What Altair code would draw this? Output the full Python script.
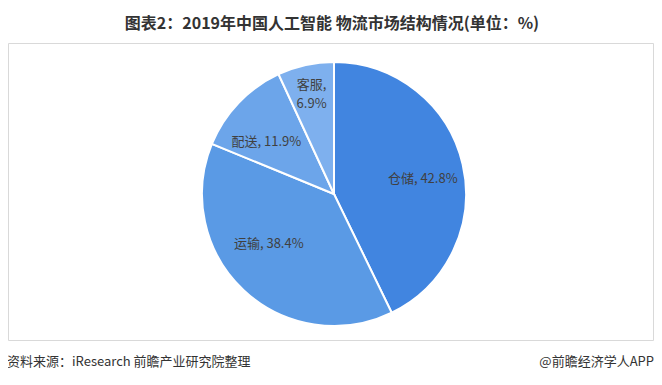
import altair as alt
import pandas as pd

categories = ["仓储", "运输", "配送", "客服"]
shares = [42.8, 38.4, 11.9, 6.9]
colors = ["#4185E0", "#5A9AE5", "#6CA5EA", "#7EB0EE"]

title_text = "图表2：2019年中国人工智能 物流市场结构情况(单位：%)"
source_text = "资料来源：iResearch 前瞻产业研究院整理"
brand_text = "@前瞻经济学人APP"

FONT = "Noto Sans CJK SC"

df = pd.DataFrame({"cat": categories, "val": shares, "order": list(range(len(categories)))})
df["label"] = [
    (f"{c},\n{v}%" if c == "客服" else f"{c}, {v}%") for c, v in zip(categories, shares)
]

W, H = 646, 369
CX, CY, R = 326, 186, 132

color = alt.Color("cat:N", scale=alt.Scale(domain=categories, range=colors), legend=None)
theta = alt.Theta("val:Q", stack=True)
order = alt.Order("order:Q")

base = alt.Chart(df)

frame = alt.Chart(pd.DataFrame({"a": [0]})).mark_rect(
    fill="white", stroke="#D9D9D9", strokeWidth=1
).encode(
    x=alt.value(0.5), x2=alt.value(W - 0.5), y=alt.value(35.5), y2=alt.value(332.5)
)

pie = base.mark_arc(outerRadius=R, stroke="white", strokeWidth=2).encode(
    theta=theta, color=color, order=order, x=alt.value(CX), y=alt.value(CY)
)

# label placement tweaks (radius, dx, dy) per slice, Excel-like "best fit"
placement = {"仓储": (88, 3, 5), "运输": (88, -5, -14), "配送": (88, -4, 9), "客服": (104, 0, -7)}

label_layers = []
for cat in categories:
    r, dx, dy = placement[cat]
    label_layers.append(
        base.mark_text(
            radius=r, dx=dx, dy=dy, font=FONT, fontSize=13, color="#404040",
            align="center", baseline="middle", lineBreak="\n", lineHeight=19
        ).encode(
            theta=theta, order=order, text="label:N", x=alt.value(CX), y=alt.value(CY),
            opacity=alt.condition(alt.datum.cat == cat, alt.value(1), alt.value(0)),
        )
    )

txt = pd.DataFrame({"t": [title_text]})
title = alt.Chart(txt).mark_text(
    font=FONT, fontSize=16, fontWeight="bold", color="#333333", align="center", baseline="middle"
).encode(text="t:N", x=alt.value(324), y=alt.value(16))

src = alt.Chart(pd.DataFrame({"t": [source_text]})).mark_text(
    font=FONT, fontSize=13, color="#333333", align="left", baseline="middle"
).encode(text="t:N", x=alt.value(-1), y=alt.value(354))

brand = alt.Chart(pd.DataFrame({"t": [brand_text]})).mark_text(
    font=FONT, fontSize=13, color="#333333", align="right", baseline="middle"
).encode(text="t:N", x=alt.value(W), y=alt.value(354))

chart = alt.layer(frame, pie, *label_layers, title, src, brand).properties(
    width=W, height=H, autosize=alt.AutoSizeParams(type="none"), padding=0,
    background="white"
).configure_view(stroke=None)

chart.save("out.html", embed_options={"renderer": "svg", "actions": False})
